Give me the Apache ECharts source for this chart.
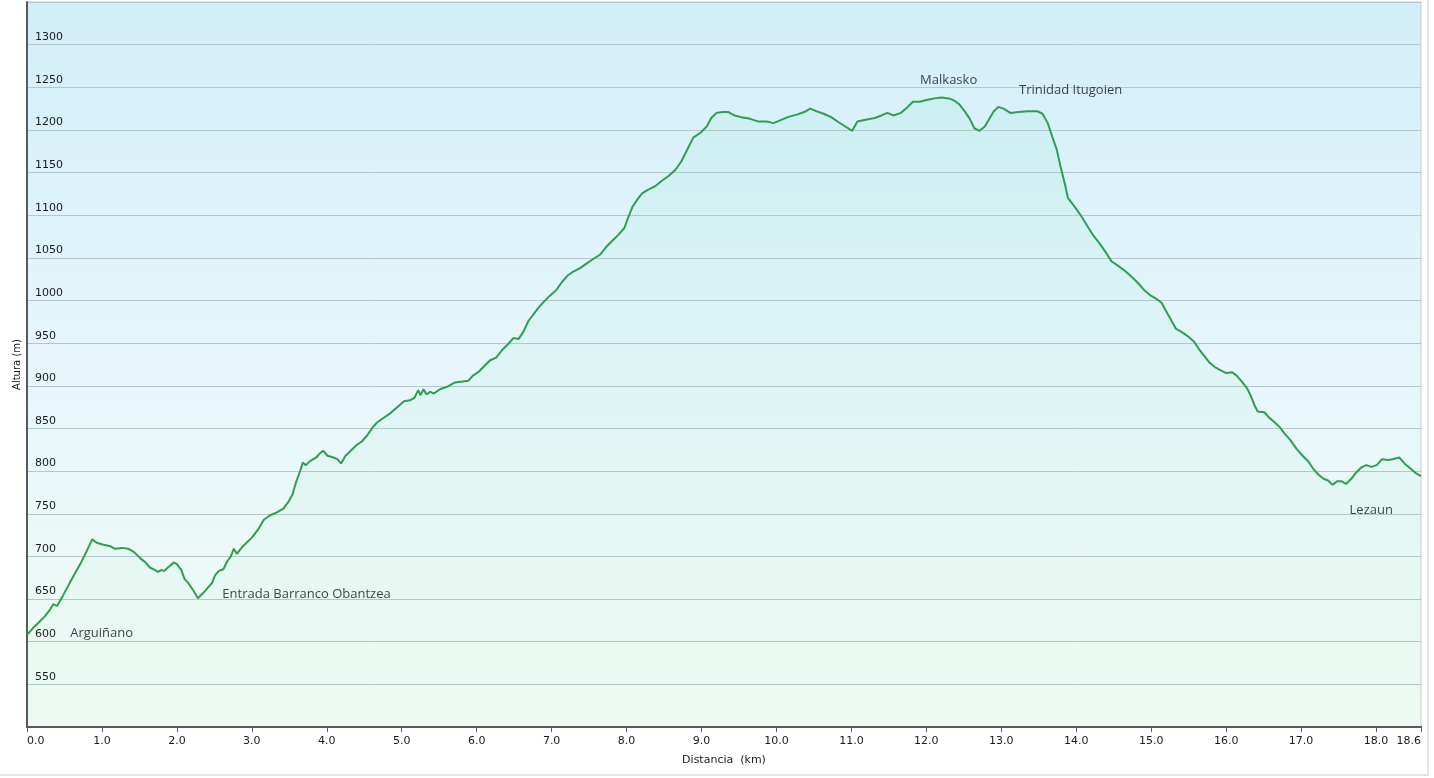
<!DOCTYPE html>
<html>
<head>
<meta charset="utf-8">
<script src="https://cdn.jsdelivr.net/npm/echarts@6/dist/echarts.min.js"></script>
<style>
html,body{margin:0;padding:0;background:#fff;}
#frame{position:absolute;left:0;top:0;width:1427px;height:774px;border-right:2px solid #e4e4e4;border-bottom:2px solid #e4e4e4;}
#chart{position:absolute;left:0;top:0;width:1434px;height:778px;}
</style>
</head>
<body>
<div id="frame"></div>
<div id="chart"></div>
<script>
const distKm = [0.00,0.08,0.15,0.24,0.31,0.35,0.40,0.48,0.57,0.71,0.79,0.87,0.93,1.01,1.11,1.17,1.27,1.35,1.43,1.51,1.58,1.64,1.71,1.75,1.79,1.83,1.88,1.96,2.00,2.06,2.10,2.15,2.22,2.28,2.35,2.42,2.47,2.51,2.56,2.62,2.67,2.72,2.76,2.80,2.87,2.94,3.00,3.08,3.16,3.24,3.34,3.42,3.48,3.54,3.59,3.64,3.68,3.72,3.78,3.86,3.91,3.95,4.01,4.09,4.14,4.19,4.25,4.31,4.39,4.47,4.54,4.61,4.67,4.75,4.85,4.94,5.03,5.11,5.17,5.22,5.25,5.29,5.33,5.38,5.43,5.51,5.61,5.71,5.81,5.89,5.95,6.02,6.10,6.18,6.26,6.34,6.42,6.49,6.56,6.62,6.69,6.76,6.82,6.90,6.98,7.06,7.14,7.21,7.29,7.38,7.46,7.56,7.65,7.73,7.81,7.89,7.97,8.02,8.08,8.14,8.21,8.29,8.38,8.48,8.56,8.65,8.73,8.81,8.89,8.99,9.07,9.13,9.20,9.28,9.36,9.44,9.53,9.65,9.75,9.87,9.96,10.04,10.15,10.27,10.37,10.45,10.53,10.63,10.73,10.83,10.92,11.01,11.08,11.19,11.31,11.40,11.48,11.56,11.66,11.74,11.82,11.91,12.00,12.11,12.20,12.30,12.38,12.44,12.51,12.58,12.64,12.71,12.78,12.84,12.90,12.96,13.03,13.12,13.23,13.35,13.48,13.55,13.62,13.68,13.74,13.79,13.85,13.89,13.97,14.06,14.15,14.23,14.31,14.39,14.47,14.57,14.66,14.75,14.83,14.91,14.99,15.07,15.14,15.19,15.26,15.33,15.41,15.49,15.57,15.63,15.70,15.77,15.85,15.93,16.00,16.08,16.14,16.21,16.28,16.33,16.38,16.42,16.51,16.57,16.65,16.72,16.78,16.86,16.94,17.02,17.10,17.16,17.23,17.30,17.36,17.42,17.48,17.54,17.60,17.67,17.73,17.80,17.87,17.94,18.01,18.08,18.16,18.22,18.31,18.38,18.46,18.54,18.60];
const altitudeM = [608,616,622,630,638,644,642,654,669,691,705,720,716,714,712,709,710,709,705,698,693,687,684,682,684,683,687,693,691,684,674,669,660,651,657,664,669,678,683,685,694,700,709,703,711,717,722,731,743,748,752,756,763,772,787,799,810,807,812,816,821,824,818,816,814,809,818,823,830,835,842,851,857,862,868,875,882,883,886,895,889,896,890,893,891,896,899,904,905,906,912,916,923,930,933,942,949,956,955,963,976,984,991,999,1006,1012,1022,1029,1034,1038,1043,1049,1054,1063,1070,1077,1085,1097,1110,1118,1126,1130,1134,1141,1146,1153,1163,1177,1191,1197,1204,1214,1220,1221,1221,1217,1215,1213,1210,1210,1208,1211,1215,1218,1221,1225,1222,1219,1215,1209,1204,1199,1210,1212,1214,1217,1220,1217,1220,1226,1233,1233,1235,1237,1238,1237,1234,1230,1222,1213,1202,1199,1204,1213,1222,1227,1225,1220,1221,1222,1222,1219,1208,1192,1177,1157,1136,1120,1111,1100,1087,1076,1067,1057,1046,1040,1034,1027,1020,1012,1006,1002,997,989,978,967,963,958,952,944,936,928,922,918,915,916,912,905,897,888,877,870,869,863,857,851,844,836,826,818,811,803,796,791,789,784,788,788,785,791,798,804,807,805,807,814,813,814,816,809,803,797,794];
const placeNames = ['Arguiñano','Entrada Barranco Obantzea','Malkasko','Trinidad Itugoien','Lezaun'];
const placeKm = [0.57,2.60,11.91,13.23,17.64];
const placeAlt = [610,656,1258,1246,754];
const yTickLabels = [550,600,650,700,750,800,850,900,950,1000,1050,1100,1150,1200,1250,1300];

const chart = echarts.init(document.getElementById('chart'), null, {renderer:'canvas'});
const profile = distKm.map((d,i)=>[d, altitudeM[i]]);
const places = placeNames.map((n,i)=>({name:n, value:[placeKm[i], placeAlt[i]]}));

chart.setOption({
  animation:false,
  backgroundColor:'transparent',
  grid:{
    left:27, right:13, top:2, bottom:51,
    show:true,
    borderColor:'#c6cdd0', borderWidth:1,
    backgroundColor:{type:'linear',x:0,y:0,x2:0,y2:1,colorStops:[
      {offset:0,color:'#d2eef9'},
      {offset:0.5,color:'#e6f6fb'},
      {offset:1,color:'#f0fbf3'}
    ]}
  },
  xAxis:{
    type:'value', min:0, max:18.6, interval:1,
    name:'Distancia  (km)', nameLocation:'middle', nameGap:28,
    nameTextStyle:{fontFamily:'DejaVu Sans', fontSize:11, color:'#1a1a1a'},
    axisLine:{show:true, lineStyle:{color:'#5a5a5a', width:2}},
    axisTick:{show:true, length:5, lineStyle:{color:'#5a5a5a', width:1}},
    axisLabel:{
      fontFamily:'DejaVu Sans', fontSize:11, color:'#1a1a1a', margin:9,
      showMinLabel:true, showMaxLabel:true,
      alignMinLabel:'left', alignMaxLabel:'right',
      formatter:v=>v.toFixed(1)
    },
    splitLine:{show:false}
  },
  yAxis:{
    type:'value', min:500, max:1350, interval:50,
    name:'Altura (m)', nameLocation:'middle', nameGap:5, nameRotate:90,
    nameMoveOverlap:false,
    nameTextStyle:{fontFamily:'DejaVu Sans', fontSize:10, color:'#1a1a1a'},
    axisLine:{show:true, lineStyle:{color:'#5a5a5a', width:2}},
    axisTick:{show:false},
    axisLabel:{
      inside:true, margin:8, fontFamily:'DejaVu Sans', fontSize:11, color:'#1a1a1a',
      verticalAlign:'bottom', padding:[0,0,2,0],
      formatter:v=> yTickLabels.includes(v) ? String(v) : ''
    },
    splitLine:{show:true, lineStyle:{color:'#b6c7cb', width:1}}
  },
  series:[
    {
      type:'line', data:profile, symbol:'none', smooth:false,
      lineStyle:{color:'#2f9e52', width:2},
      areaStyle:{color:{type:'linear',x:0,y:0,x2:0,y2:1,colorStops:[
        {offset:0,color:'rgba(80,215,160,0.11)'},
        {offset:1,color:'rgba(80,215,140,0.03)'}
      ]}},
      z:3
    },
    {
      type:'scatter', data:places, symbolSize:1, itemStyle:{color:'rgba(0,0,0,0)'},
      label:{show:true, position:'right', distance:0, formatter:p=>p.name,
        fontFamily:'Open Sans', fontSize:13, color:'#111'},
      z:4
    }
  ]
});
</script>
</body>
</html>
